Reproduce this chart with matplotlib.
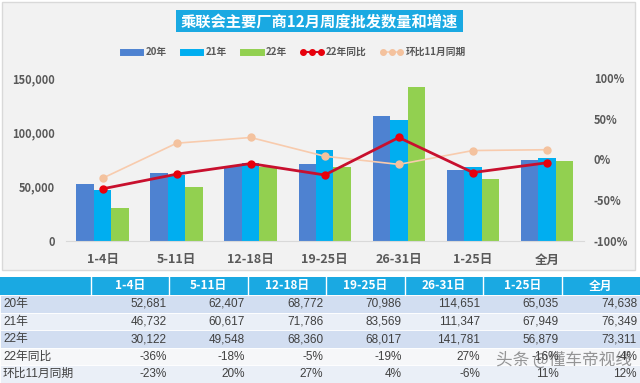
import matplotlib
matplotlib.use('Agg')
import matplotlib.pyplot as plt
from matplotlib.patches import Rectangle
from matplotlib.lines import Line2D
from matplotlib.ticker import FuncFormatter, FixedLocator
import numpy as np

# ---------------- data ----------------
categories = ['1-4日', '5-11日', '12-18日', '19-25日', '26-31日', '1-25日', '全月']
v20 = [52681, 62407, 68772, 70986, 114651, 65035, 74638]
v21 = [46732, 60617, 71786, 83569, 111347, 67949, 76349]
v22 = [30122, 49548, 68360, 68017, 141781, 56879, 73311]
yoy22 = [-36, -18, -5, -19, 27, -16, -4]
mom11 = [-23, 20, 27, 4, -6, 11, 12]
series_names = ['20年', '21年', '22年', '22年同比', '环比11月同期']
left_ticks = [0, 50000, 100000, 150000]
right_ticks = [-100, -50, 0, 50, 100]
title = '乘联会主要厂商12月周度批发数量和增速'
watermark = '头条 @懂车帝视线'

# ---------------- style ----------------
C20, C21, C22 = '#4e82d1', '#00aef0', '#92d050'
CYOY, CYOY_M = '#c8102e', '#e8000b'
CMOM, CMOM_M = '#f8cbad', '#f4c29e'
TICKC = '#595959'
HEADC = '#1aa9e2'

plt.rcParams['font.family'] = ['Noto Sans CJK SC', 'DejaVu Sans']
TABLE_FONT = ['Liberation Sans', 'Noto Sans CJK SC', 'DejaVu Sans']

W, H = 640, 383
fig = plt.figure(figsize=(6.4, 3.83), dpi=100)
fig.patch.set_facecolor('white')


def px(x0, y0, x1, y1):
    return [x0 / W, 1 - y1 / H, (x1 - x0) / W, (y1 - y0) / H]


# background / pixel-space axes
bg = fig.add_axes([0, 0, 1, 1])
bg.set_xlim(0, W)
bg.set_ylim(H, 0)
bg.axis('off')
bg.add_patch(Rectangle((1.5, 1.5), 633, 268, facecolor='#f2f2f2',
                       edgecolor='#d9d9d9', lw=1))
bg.add_patch(Rectangle((176, 10), 287, 22, facecolor=HEADC, edgecolor='none'))
bg.text(319.5, 21.5, title, ha='center', va='center', color='white',
        fontsize=11, fontweight='bold')

# ---------------- chart ----------------
ax = fig.add_axes(px(65.5, 78, 584, 241))
ax.patch.set_visible(False)
x = np.arange(len(categories))
w = 0.236
ax.bar(x - w, v20, w, color=C20, zorder=2)
ax.bar(x, v21, w, color=C21, zorder=2)
ax.bar(x + w, v22, w, color=C22, zorder=2)
ax.set_xlim(-0.5, len(categories) - 0.5)
ax.set_ylim(left_ticks[0], left_ticks[-1])
ax.yaxis.set_major_locator(FixedLocator(left_ticks))
ax.yaxis.set_major_formatter(FuncFormatter(lambda v, p: f'{v:,.0f}'))
ax.set_xticks(x)
ax.set_xticklabels(categories)
for s in ['top', 'left', 'right']:
    ax.spines[s].set_visible(False)
ax.spines['bottom'].set_color('#d9d9d9')
ax.tick_params(axis='both', length=0, colors=TICKC)
ax.tick_params(axis='x', pad=9, labelsize=9)
ax.tick_params(axis='y', pad=7.5, labelsize=8)
for t in ax.get_xticklabels() + ax.get_yticklabels():
    t.set_fontweight('bold')

ax2 = ax.twinx()
ax2.patch.set_visible(False)
ax2.plot(x, mom11, color=CMOM, lw=1.2, marker='o', ms=5,
         mfc=CMOM_M, mec=CMOM_M, zorder=3)
ax2.plot(x, yoy22, color=CYOY, lw=2, marker='o', ms=5,
         mfc=CYOY_M, mec=CYOY_M, zorder=4)
ax2.set_ylim(right_ticks[0], right_ticks[-1])
ax2.yaxis.set_major_locator(FixedLocator(right_ticks))
ax2.yaxis.set_major_formatter(FuncFormatter(lambda v, p: f'{v:.0f}%'))
for s in ['top', 'left', 'right', 'bottom']:
    ax2.spines[s].set_visible(False)
ax2.tick_params(axis='y', length=0, colors=TICKC, pad=7, labelsize=8)
for t in ax2.get_yticklabels():
    t.set_fontweight('bold')

# legend
handles = [
    Line2D([], [], color=C20, lw=5),
    Line2D([], [], color=C21, lw=5),
    Line2D([], [], color=C22, lw=5),
    Line2D([], [], color=CYOY, lw=1.5, marker='o', ms=4, mfc=CYOY_M, mec=CYOY_M),
    Line2D([], [], color=CMOM, lw=1.2, marker='o', ms=4, mfc=CMOM_M, mec=CMOM_M),
]
leg = fig.legend(handles, series_names, loc='center',
                 bbox_to_anchor=(293 / W, 1 - 52 / H), ncol=5, frameon=False,
                 handlelength=2.4, handletextpad=0.25,
                 columnspacing=1.35, numpoints=3,
                 prop={'weight': 'bold', 'size': 7})
for t in leg.get_texts():
    t.set_color(TICKC)

# ---------------- table ----------------
row_edges = [277, 295, 313, 330, 348, 365, 383]
col_edges = [0, 91] + [91 + (W - 91) * (i + 1) / len(categories) for i in range(len(categories))]
row_colors = ['#d2def1', '#eaeff7', '#d2def1', '#f6f7f9', '#eaeff7']

bg.add_patch(Rectangle((0, row_edges[0]), W, row_edges[1] - row_edges[0],
                       facecolor=HEADC, edgecolor='none'))
for i, c in enumerate(categories):
    cx = (col_edges[i + 1] + col_edges[i + 2]) / 2
    bg.text(cx, (row_edges[0] + row_edges[1]) / 2, c, ha='center', va='center',
            color='white', fontsize=8.5, fontweight='bold')
for ce in col_edges[1:-1]:
    bg.plot([ce, ce], [row_edges[0], row_edges[1]], color='white', lw=1)

table_rows = [
    (series_names[0], [f'{v:,}' for v in v20]),
    (series_names[1], [f'{v:,}' for v in v21]),
    (series_names[2], [f'{v:,}' for v in v22]),
    (series_names[3], [f'{v}%' for v in yoy22]),
    (series_names[4], [f'{v}%' for v in mom11]),
]
for r, (label, vals) in enumerate(table_rows):
    y0, y1 = row_edges[r + 1], row_edges[r + 2]
    bg.add_patch(Rectangle((0, y0), W, y1 - y0, facecolor=row_colors[r],
                           edgecolor='white', lw=0.6))
    ym = (y0 + y1) / 2
    bg.text(3, ym, label, ha='left', va='center', color='#404040',
            fontsize=8.5, family=TABLE_FONT)
    for i, v in enumerate(vals):
        bg.text(col_edges[i + 2] - 3, ym, v, ha='right', va='center',
                color='#404040', fontsize=8.5, family=TABLE_FONT)

bg.text(564, 360, watermark, ha='center', va='center', color='#333333',
        alpha=0.5, fontsize=12, zorder=5)

fig.savefig('out.png', dpi=100)
